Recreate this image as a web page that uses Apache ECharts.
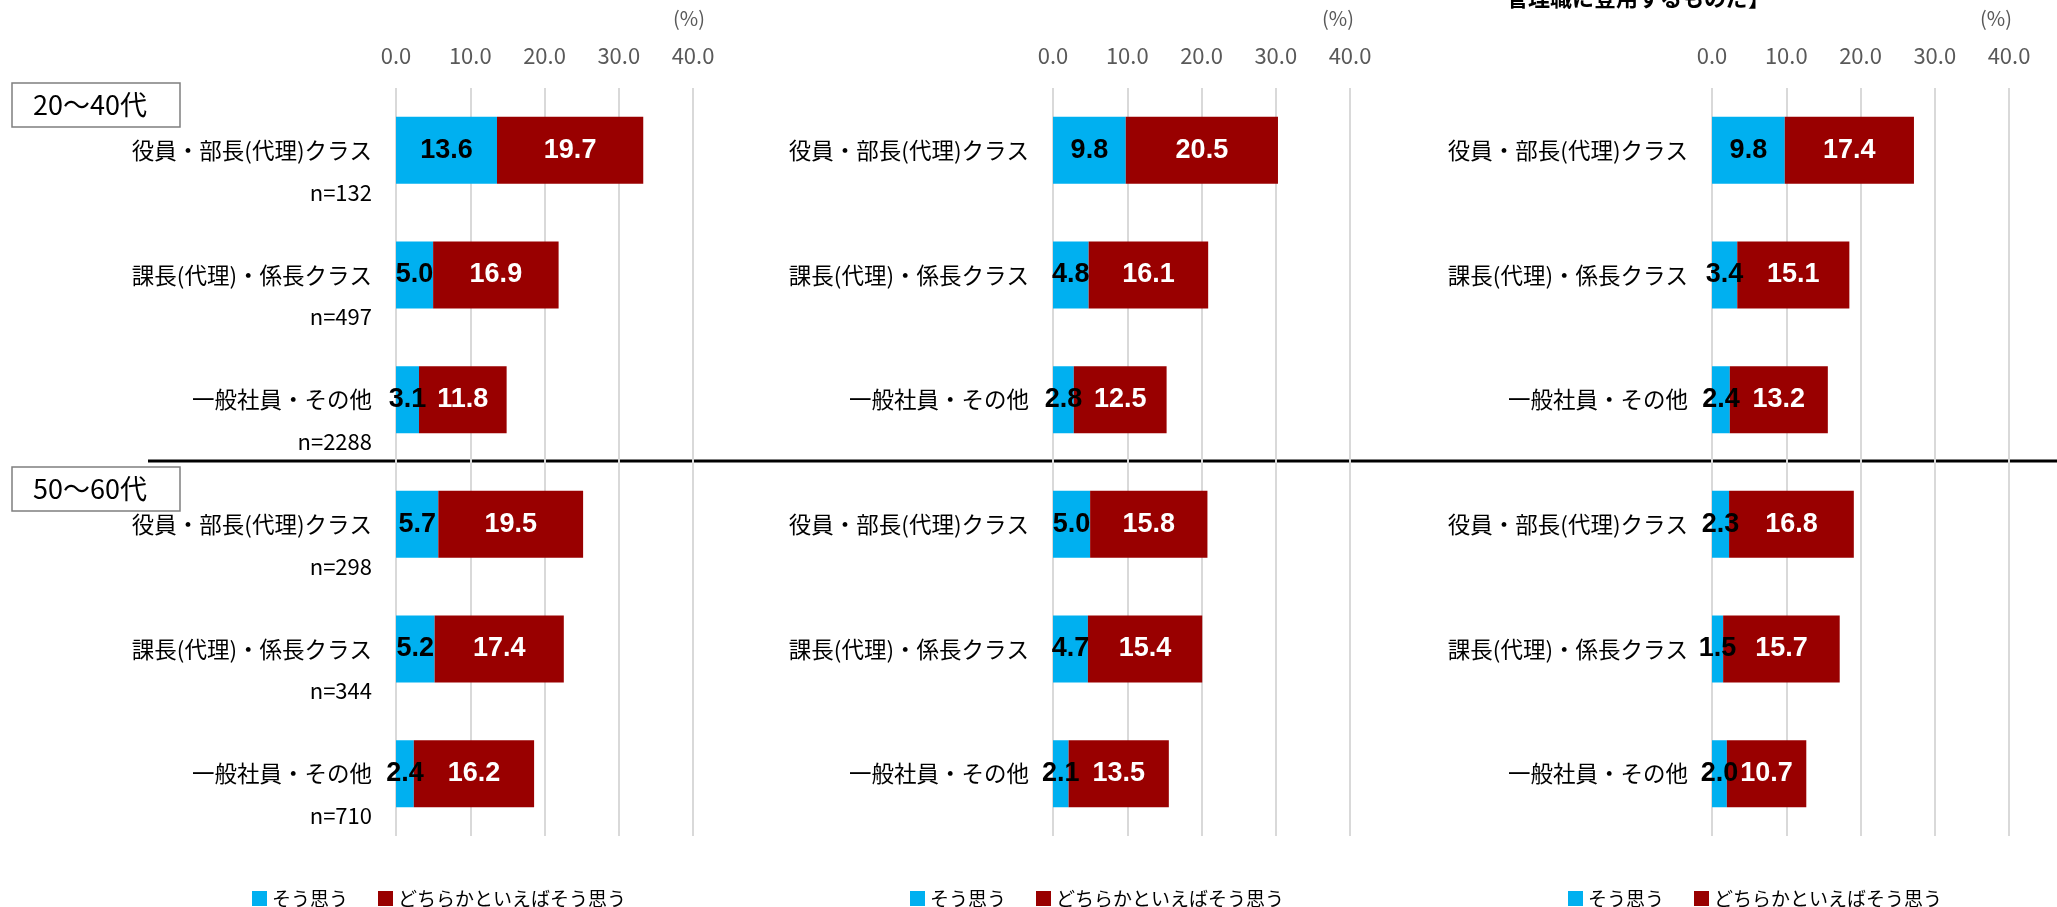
<!doctype html>
<html>
<head>
<meta charset="utf-8">
<title>管理職登用</title>
<script src="https://cdn.jsdelivr.net/npm/echarts@6/dist/echarts.min.js"></script>
<style>
    html, body { margin: 0; padding: 0; background: #fff; }
    #main { width: 2057px; height: 907px; }
</style>
</head>
<body>
<div id="main"></div>
<script>
// 行ラベル（上3行:20～40代、下3行:50～60代）
var categories = ['役員・部長(代理)クラス', '課長(代理)・係長クラス', '一般社員・その他',
                  '役員・部長(代理)クラス', '課長(代理)・係長クラス', '一般社員・その他'];
var nLabels = [132, 497, 2288, 298, 344, 710];
var seriesNames = ['そう思う', 'どちらかといえばそう思う'];
var groupLabels = ['20～40代', '50～60代'];
var axisMax = 40;
var axisStep = 10;

// 左パネル
var p1Yes    = [13.6, 5.0, 3.1, 5.7, 5.2, 2.4];
var p1Rather = [19.7, 16.9, 11.8, 19.5, 17.4, 16.2];
// 中央パネル
var p2Yes    = [9.8, 4.8, 2.8, 5.0, 4.7, 2.1];
var p2Rather = [20.5, 16.1, 12.5, 15.8, 15.4, 13.5];
// 右パネル
var p3Yes    = [9.8, 3.4, 2.4, 2.3, 1.5, 2.0];
var p3Rather = [17.4, 15.1, 13.2, 16.8, 15.7, 10.7];

var panelTitle = '管理職に登用するものだ】';

var yesData = [p1Yes, p2Yes, p3Yes];
var ratherData = [p1Rather, p2Rather, p3Rather];

var myChart = echarts.init(document.getElementById('main'));

var gridLeft = [396, 1053, 1712];
var legendLeft = [247, 905, 1563];
var jp = '"Noto Sans CJK JP", "Noto Sans", sans-serif';
var num = '"Liberation Sans Narrow", "Liberation Sans", sans-serif';

var grids = [], xAxes = [], yAxes = [], series = [], legends = [];
for (var i = 0; i < 3; i++) {
    grids.push({ left: gridLeft[i], top: 88, width: 297, height: 748 });
    xAxes.push({
        type: 'value', gridIndex: i, position: 'top',
        min: 0, max: axisMax, interval: axisStep,
        axisLine: { show: false }, axisTick: { show: false },
        axisLabel: {
            margin: 21, color: '#595959', fontSize: 22, fontFamily: jp,
            formatter: function (v) { return v.toFixed(1); }
        },
        splitLine: { lineStyle: { color: '#d9d9d9', width: 2 } }
    });
    var withN = (i === 0);
    yAxes.push({
        type: 'category', gridIndex: i, inverse: true, data: categories,
        axisLine: { show: false }, axisTick: { show: false },
        axisLabel: {
            margin: 24, color: '#000', fontSize: 22.5, fontFamily: jp,
            formatter: withN ? function (v, idx) {
                return '{e| }\n{a|' + v + '}\n{n|n=' + nLabels[idx] + '}';
            } : function (v) { return v; },
            rich: {
                e: { fontSize: 22, lineHeight: 42, fontFamily: jp },
                a: { fontSize: 22.5, lineHeight: 42, fontFamily: jp, color: '#000' },
                n: { fontSize: 22, lineHeight: 42, fontFamily: jp, color: '#000' }
            }
        }
    });
    series.push({
        name: seriesNames[0], type: 'bar', stack: 'p' + i,
        xAxisIndex: i, yAxisIndex: i, barWidth: 67,
        itemStyle: { color: '#00B0F0' },
        label: {
            show: true, position: 'inside', color: '#000',
            fontSize: 27, fontWeight: 'bold', fontFamily: num,
            formatter: function (p) { return p.value.toFixed(1); }
        },
        data: yesData[i]
    });
    series.push({
        name: seriesNames[1], type: 'bar', stack: 'p' + i,
        xAxisIndex: i, yAxisIndex: i, barWidth: 67,
        itemStyle: { color: '#990000' },
        label: {
            show: true, position: 'inside', color: '#fff',
            fontSize: 27, fontWeight: 'bold', fontFamily: num,
            formatter: function (p) { return p.value.toFixed(1); }
        },
        data: ratherData[i]
    });
    legends.push({
        data: seriesNames, left: legendLeft[i], top: 884,
        itemWidth: 15, itemHeight: 15, itemGap: 30, icon: 'rect',
        selectedMode: false,
        textStyle: { fontSize: 19, color: '#000', fontFamily: jp }
    });
}

// 装飾（区切り線・年代ボックス・単位・見出し）
var graphics = [
    { type: 'line', shape: { x1: 148, y1: 461, x2: 2057, y2: 461 },
      style: { stroke: '#000', lineWidth: 3 } },
    { type: 'text', left: 1506, top: -13,
      style: { text: panelTitle, font: 'bold 22px ' + jp, fill: '#000' } }
];
var boxTops = [83, 467];
for (var g = 0; g < 2; g++) {
    graphics.push({
        type: 'rect', shape: { x: 12, y: boxTops[g], width: 168, height: 44 },
        style: { fill: '#fff', stroke: '#7f7f7f', lineWidth: 1.5 }
    });
    graphics.push({
        type: 'text', x: 90, y: boxTops[g] + 22,
        style: { text: groupLabels[g], font: '27px ' + jp, fill: '#000',
                 textAlign: 'center', textVerticalAlign: 'middle' }
    });
}
var pctX = [689, 1338, 1996];
for (var k = 0; k < 3; k++) {
    graphics.push({
        type: 'text', x: pctX[k], y: 18,
        style: { text: '(%)', font: '20px ' + jp, fill: '#595959',
                 textAlign: 'center', textVerticalAlign: 'middle' }
    });
}

var option = {
    animation: false,
    backgroundColor: '#fff',
    grid: grids,
    xAxis: xAxes,
    yAxis: yAxes,
    legend: legends,
    series: series,
    graphic: graphics
};
myChart.setOption(option);
</script>
</body>
</html>
